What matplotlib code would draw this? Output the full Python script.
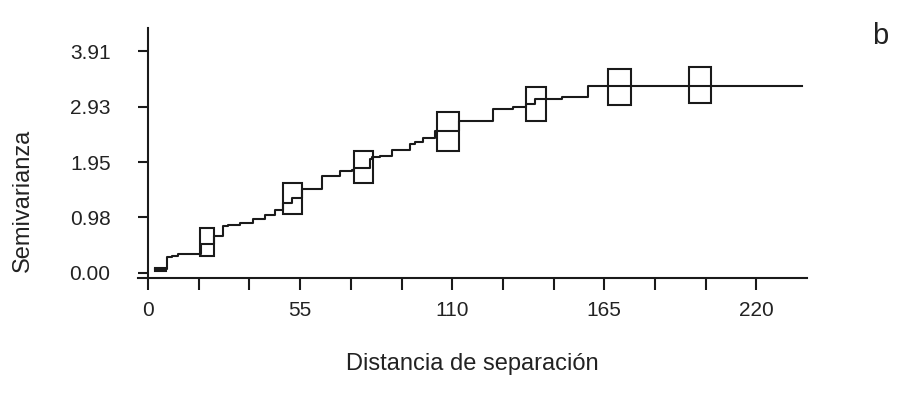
import numpy as np
import matplotlib.pyplot as plt
from matplotlib.patches import Rectangle

# Step curve of the semivariogram (x = start of each step, y = level)
step_x = [2.5, 6.8, 8.7, 10.9, 19.0, 23.9, 27.1, 28.9, 33.3, 38.0, 42.3,
          45.9, 48.8, 52.1, 55.7, 62.9, 69.4, 73.8, 74.5, 80.3, 81.0, 83.9,
          88.3, 94.8, 96.6, 99.5, 103.8, 112.5, 124.8, 132.0, 136.7, 140.0,
          143.9, 149.7, 159.1, 236.5]
step_y = [0.06, 0.27, 0.30, 0.33, 0.50, 0.65, 0.82, 0.84, 0.88, 0.95, 1.02,
          1.10, 1.23, 1.32, 1.47, 1.70, 1.79, 1.82, 1.84, 2.01, 2.04, 2.06,
          2.17, 2.27, 2.31, 2.37, 2.50, 2.67, 2.89, 2.93, 2.97, 3.06,
          3.07, 3.10, 3.29, 3.30]

# Boxes drawn along the curve
box_x = [4.5, 21.3, 52.3, 77.9, 108.5, 140.3, 170.5, 199.6]
box_y = [0.06, 0.54, 1.31, 1.86, 2.50, 2.98, 3.28, 3.32]
box_w = [4.0, 5.1, 6.9, 6.8, 7.9, 7.2, 8.2, 7.9]
box_h = [0.05, 0.50, 0.55, 0.56, 0.69, 0.60, 0.65, 0.64]

x_ticks = [0, 55, 110, 165, 220]
y_ticks = [0.00, 0.98, 1.95, 2.93, 3.91]
y_labels = ['0.00', '0.98', '1.95', '2.93', '3.91']

plt.rcParams['font.family'] = ['Liberation Sans', 'DejaVu Sans']

fig = plt.figure(figsize=(9.24, 4.01), dpi=100)
ax = fig.add_axes([0.1494, 0.3067, 0.724, 0.6233])

col = '#1a1a1a'
ax.plot(step_x + [step_x[-1]], step_y + [step_y[-1]], drawstyle='steps-post',
        color=col, linewidth=1.5)
for bx, by, bw, bh in zip(box_x, box_y, box_w, box_h):
    ax.add_patch(Rectangle((bx - bw / 2, by - bh / 2), bw, bh, fill=False,
                           edgecolor=col, linewidth=1.5))

ax.set_xlim(-3.6, 238.3)
ax.set_ylim(-0.097, 4.32)

ax.spines['top'].set_visible(False)
ax.spines['right'].set_visible(False)
ax.spines['left'].set_position(('data', 0))
for s in ('left', 'bottom'):
    ax.spines[s].set_linewidth(1.5)
    ax.spines[s].set_color(col)

all_x = np.linspace(0, 220, 13)
ax.set_xticks(all_x)
ax.set_xticklabels([str(int(round(v))) if int(round(v)) in x_ticks else ''
                    for v in all_x])
ax.set_yticks(y_ticks)
ax.set_yticklabels(y_labels)
ax.tick_params(axis='x', direction='out', length=8.5, width=1.5, color=col,
               labelsize=15, pad=8, labelcolor='#222222')
ax.tick_params(axis='y', direction='out', length=7, width=1.5, color=col,
               labelsize=15, pad=20, labelcolor='#222222')

ax.set_xlabel('Distancia de separación', fontsize=17, color='#222222',
              labelpad=24)
fig.text(0.025, 0.5, 'Semivarianza', rotation=90, fontsize=17,
         color='#222222', ha='center', va='center')
fig.text(0.953, 0.91, 'b', fontsize=21, color='#222222',
         ha='center', va='center')

fig.savefig('out.png', dpi=100)
